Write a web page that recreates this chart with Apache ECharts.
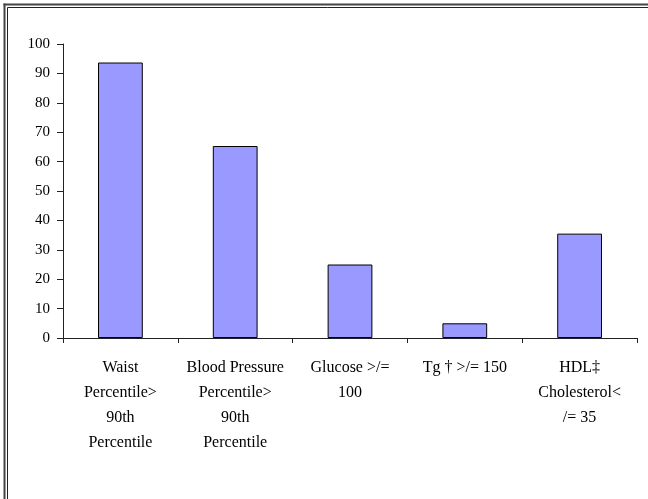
<!DOCTYPE html>
<html>
<head>
<meta charset="utf-8">
<script src="https://cdn.jsdelivr.net/npm/echarts@6/dist/echarts.min.js"></script>
<style>
html,body{margin:0;padding:0;background:#fff;}
#chart{width:648px;height:499px;}
</style>
</head>
<body>
<div id="chart"></div>
<script>
var categories = [
  "Waist\nPercentile>\n90th\nPercentile",
  "Blood Pressure\nPercentile>\n90th\nPercentile",
  "Glucose >/=\n100",
  "Tg \u2020 >/= 150",
  "HDL\u2021\nCholesterol<\n/= 35"
];
var values = [93.7, 65.3, 25, 5, 35.5];
var yTicks = [0, 10, 20, 30, 40, 50, 60, 70, 80, 90, 100];

var chart = echarts.init(document.getElementById('chart'), null, {renderer: 'canvas'});
var font = "'Liberation Serif', 'Times New Roman', serif";
chart.setOption({
  animation: false,
  backgroundColor: '#fff',
  graphic: [
    {type: 'line', shape: {x1: 3.5, y1: 4.5, x2: 648, y2: 4.5}, style: {stroke: '#444', lineWidth: 2}},
    {type: 'line', shape: {x1: 4.5, y1: 3.5, x2: 4.5, y2: 499}, style: {stroke: '#444', lineWidth: 2}},
    {type: 'line', shape: {x1: 7.5, y1: 7.5, x2: 648, y2: 7.5}, style: {stroke: '#222', lineWidth: 1}},
    {type: 'line', shape: {x1: 7.5, y1: 7.5, x2: 7.5, y2: 499}, style: {stroke: '#222', lineWidth: 1}}
  ],
  grid: {left: 63, right: 11, top: 44, bottom: 161, containLabel: false},
  xAxis: {
    type: 'category',
    data: categories,
    axisLine: {lineStyle: {color: '#222', width: 1}},
    axisTick: {show: true, length: 5, alignWithLabel: false, lineStyle: {color: '#222'}},
    axisLabel: {
      interval: 0,
      margin: 17,
      color: '#000',
      fontFamily: font,
      fontSize: 16,
      lineHeight: 25,
      verticalAlign: 'top'
    }
  },
  yAxis: {
    type: 'value',
    min: yTicks[0],
    max: yTicks[yTicks.length - 1],
    interval: 10,
    splitLine: {show: false},
    axisLine: {show: true, lineStyle: {color: '#222', width: 1}},
    axisTick: {show: true, length: 6, lineStyle: {color: '#222'}},
    axisLabel: {color: '#000', fontFamily: font, fontSize: 15, margin: 13}
  },
  series: [{
    type: 'bar',
    data: values,
    barWidth: '39%',
    itemStyle: {color: '#9999FF', borderColor: '#000', borderWidth: 1}
  }]
});
</script>
</body>
</html>
